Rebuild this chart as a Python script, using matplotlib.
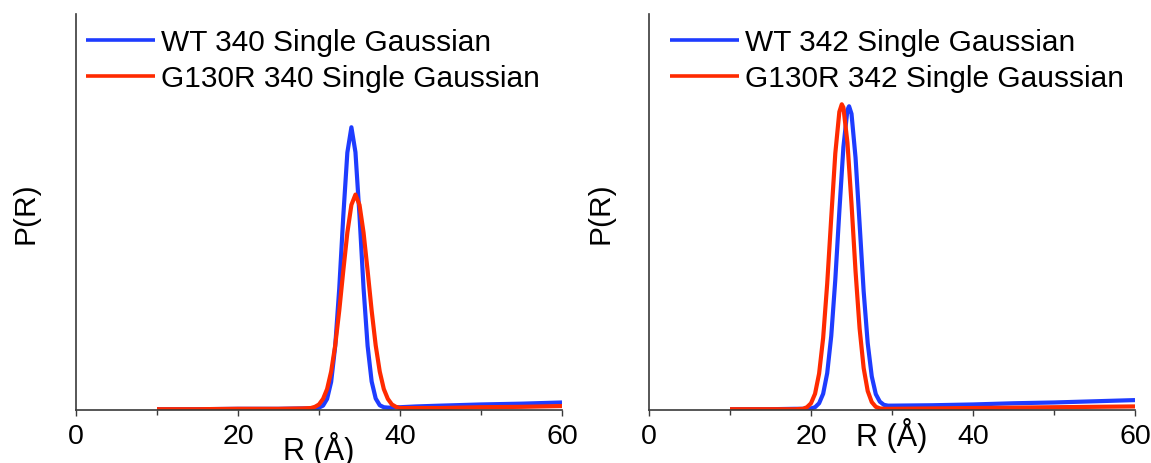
import matplotlib
matplotlib.use("Agg")
import matplotlib.pyplot as plt
from matplotlib.ticker import MultipleLocator

plt.rcParams['font.family'] = ['Liberation Sans', 'DejaVu Sans']

# ---------------- data ----------------
# Left panel (340)
x_left = [10, 15, 20, 25, 28, 29, 29.5, 30, 30.5, 31, 31.5, 32, 32.5, 33, 33.5,
          34, 34.5, 35, 35.5, 36, 36.5, 37, 37.5, 38, 38.5, 39, 39.5, 40,
          42, 45, 50, 55, 60]
wt340 = [0.002, 0.002, 0.003, 0.003, 0.004, 0.004, 0.004, 0.006, 0.011, 0.028,
         0.071, 0.161, 0.307, 0.490, 0.650, 0.714, 0.651, 0.491, 0.308, 0.162,
         0.072, 0.029, 0.012, 0.007, 0.006, 0.006, 0.007, 0.007,
         0.009, 0.011, 0.014, 0.016, 0.019]
g130r340 = [0.002, 0.002, 0.003, 0.003, 0.004, 0.005, 0.008, 0.014, 0.028, 0.053,
            0.097, 0.163, 0.251, 0.352, 0.448, 0.518, 0.544, 0.518, 0.448, 0.352,
            0.251, 0.163, 0.097, 0.053, 0.028, 0.014, 0.008, 0.005,
            0.005, 0.005, 0.007, 0.008, 0.010]

# Right panel (342)
x_wt342 = [10, 15, 18, 19, 19.5, 20, 20.5, 21, 21.5, 22, 22.5, 23, 23.5, 24, 24.5,
           24.7, 25, 25.5, 26, 26.5, 27, 27.5, 28, 28.5, 29, 29.5, 30,
           35, 40, 45, 50, 55, 60]
wt342 = [0.002, 0.002, 0.003, 0.003, 0.003, 0.004, 0.007, 0.017, 0.041, 0.093,
         0.187, 0.329, 0.502, 0.664, 0.758, 0.767, 0.748, 0.637, 0.470, 0.300,
         0.169, 0.085, 0.040, 0.021, 0.013, 0.011, 0.011,
         0.012, 0.014, 0.017, 0.019, 0.022, 0.025]
x_g342 = [10, 15, 18, 19, 19.5, 20, 20.5, 21, 21.5, 22, 22.5, 23, 23.5, 23.8, 24,
          24.5, 25, 25.5, 26, 26.5, 27, 27.5, 28, 28.5, 29, 29.5, 30,
          35, 40, 45, 50, 55, 60]
g130r342 = [0.002, 0.002, 0.002, 0.003, 0.007, 0.017, 0.041, 0.092, 0.182, 0.319,
            0.486, 0.648, 0.753, 0.772, 0.764, 0.675, 0.521, 0.350, 0.206, 0.106,
            0.048, 0.020, 0.008, 0.004, 0.003, 0.003, 0.003,
            0.004, 0.005, 0.006, 0.007, 0.008, 0.009]

xticks = [0, 20, 40, 60]
labels_left = ["WT 340 Single Gaussian", "G130R 340 Single Gaussian"]
labels_right = ["WT 342 Single Gaussian", "G130R 342 Single Gaussian"]

BLUE = "#1e3cff"
RED = "#ff2a00"
SPINE = "#3a3a3a"
FS = 21.5
FS_TICK = 20.5
FS_XLAB = 22

W, H = 1151, 464
fig = plt.figure(figsize=(W / 100, H / 100), dpi=100)

def px_axes(x0, x1, ytop, ybot):
    return fig.add_axes([x0 / W, 1 - ybot / H, (x1 - x0) / W, (ybot - ytop) / H])

axL = px_axes(76, 562, 15, 411)
axR = px_axes(649, 1135, 15, 411)

# (axes, series, labels, legend x px, ylabel x, xlabel baseline px)
panels = [
    (axL, [(x_left, wt340, BLUE), (x_left, g130r340, RED)], labels_left, 86, -0.103, 460),
    (axR, [(x_wt342, wt342, BLUE), (x_g342, g130r342, RED)], labels_right, 670, -0.099, 446),
]

for ax, series, labels, leg_x, ylab_x, xlab_base in panels:
    handles = []
    for (xs, ys, c), lab in zip(series, labels):
        h, = ax.plot(xs, ys, color=c, lw=3.0, solid_joinstyle='round',
                     solid_capstyle='butt', label=lab)
        handles.append(h)
    ax.set_xlim(0, 60)
    ax.set_ylim(0, 1.0)
    for s in ['top', 'right']:
        ax.spines[s].set_visible(False)
    for s in ['left', 'bottom']:
        ax.spines[s].set_color(SPINE)
        ax.spines[s].set_linewidth(1.2)
    ax.set_yticks([])
    ax.set_xticks(xticks)
    ax.xaxis.set_minor_locator(MultipleLocator(10))
    ax.tick_params(axis='x', which='major', direction='out', length=4.5,
                   width=1.0, color=SPINE, labelsize=FS_TICK, pad=5)
    ax.tick_params(axis='x', which='minor', direction='out', length=3.5,
                   width=1.0, color=SPINE)
    ax.set_xlabel("R (Å)", fontsize=FS_XLAB, va='baseline')
    ax.xaxis.set_label_coords(0.5, (411 - xlab_base) / 396)
    ax.set_ylabel("P(R)", fontsize=FS, va='center')
    ax.yaxis.set_label_coords(ylab_x, 0.5)
    ax.patch.set_alpha(0)

    leg = ax.legend(handles=handles, loc='upper left',
                    bbox_to_anchor=(leg_x / W, 1 - 29 / H),
                    bbox_transform=fig.transFigure, frameon=False,
                    fontsize=FS, handlelength=2.3, handletextpad=0.2,
                    labelspacing=0.27, borderpad=0, borderaxespad=0)
    for lh in leg.get_lines():
        lh.set_linewidth(2.6)

fig.savefig("out.png", dpi=100)
